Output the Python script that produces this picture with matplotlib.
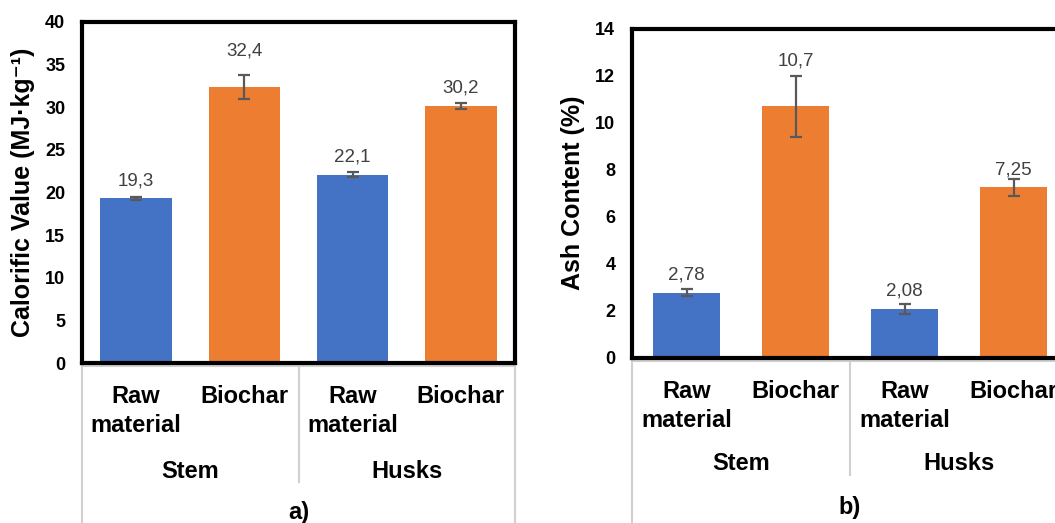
import numpy as np
import matplotlib
matplotlib.use('Agg')
import matplotlib.pyplot as plt
from matplotlib.transforms import blended_transform_factory

plt.rcParams['font.family'] = ['Liberation Sans', 'DejaVu Sans']

# bar data (comma decimal labels are built from the values)
categories = ['Raw\nmaterial', 'Biochar', 'Raw\nmaterial', 'Biochar']
groups = ['Stem', 'Husks']
calorific = [19.3, 32.4, 22.1, 30.2]
calorific_err = [0.15, 1.4, 0.25, 0.35]
ash = [2.78, 10.7, 2.08, 7.25]
ash_err = [0.15, 1.3, 0.2, 0.35]

bar_colors = ['#4472C4', '#ED7D31', '#4472C4', '#ED7D31']

W, H = 1055, 523
fig = plt.figure(figsize=(W / 100, H / 100), dpi=100)


def panel(rect, values, errs, ymax, ystep, width, label_pads, ylabel, ylabel_x,
          tag, cat_y, grp_y, tag_y, mid_end):
    ax = fig.add_axes(rect)
    x = np.arange(len(values))
    ax.bar(x, values, width, color=bar_colors, zorder=2)
    ax.errorbar(x, values, yerr=errs, fmt='none', ecolor='#595959',
                elinewidth=1.6, capsize=4.5, capthick=1.6, zorder=3)
    for xi, v, pad in zip(x, values, label_pads):
        ax.annotate(f'{v:.3g}'.replace('.', ','), (xi, v), xytext=(0, pad),
                    textcoords='offset points', ha='center', va='baseline',
                    fontsize=13.5, color='#404040')
    ax.set_xlim(-0.5, len(values) - 0.5)
    ax.set_ylim(0, ymax)
    ax.set_yticks(np.arange(0, ymax + 1, ystep))
    ax.tick_params(axis='y', length=0, pad=12, labelsize=13)
    for t in ax.get_yticklabels():
        t.set_fontweight('bold')
    ax.set_xticks([])
    for s in ax.spines.values():
        s.set_linewidth(3)
        s.set_zorder(4)

    # two-level category axis drawn underneath
    tr = blended_transform_factory(ax.transData, ax.transAxes)
    for xi, c in zip(x, categories):
        ax.text(xi, cat_y, c, transform=tr, ha='center', va='top',
                fontsize=17, fontweight='bold', linespacing=1.35)
    for gi, g in enumerate(groups):
        ax.text(2 * gi + 0.5, grp_y, g, transform=tr, ha='center', va='top',
                fontsize=17, fontweight='bold')
    ax.text(0.5, tag_y, tag, transform=ax.transAxes, ha='center', va='top',
            fontsize=17, fontweight='bold')
    line_kw = dict(color='#d0d0d0', lw=1.5, clip_on=False, zorder=1)
    ax.plot([0, 1], [-0.01, -0.01], transform=ax.transAxes, **line_kw)
    ax.plot([0, 0], [-0.01, -1], transform=ax.transAxes, **line_kw)
    ax.plot([1, 1], [-0.01, -1], transform=ax.transAxes, **line_kw)
    ax.plot([1.5, 1.5], [-0.01, mid_end], transform=tr, **line_kw)

    ymid = (rect[1] + rect[3] / 2)
    fig.text(ylabel_x, ymid, ylabel, rotation=90, ha='center', va='center',
             fontsize=18, fontweight='bold')
    return ax


# left panel: calorific value
panel([82 / W, 1 - 363 / H, (515 - 82) / W, (363 - 22) / H],
      calorific, calorific_err, 40, 5, 0.66, [9.4, 22.3, 9.4, 9.4],
      'Calorific Value (MJ·kg⁻¹)', 23 / W,
      'a)', -0.064, -0.284, -0.405, -0.349)

# right panel: ash content (runs past the right edge)
panel([632 / W, 1 - 358 / H, (1068 - 632) / W, (358 - 28.5) / H],
      ash, ash_err, 14, 2, 0.615, [9.4, 29.5, 9.4, 9.4],
      'Ash Content (%)', 573 / W,
      'b)', -0.067, -0.285, -0.42, -0.355)

fig.savefig('out.png', dpi=100)
